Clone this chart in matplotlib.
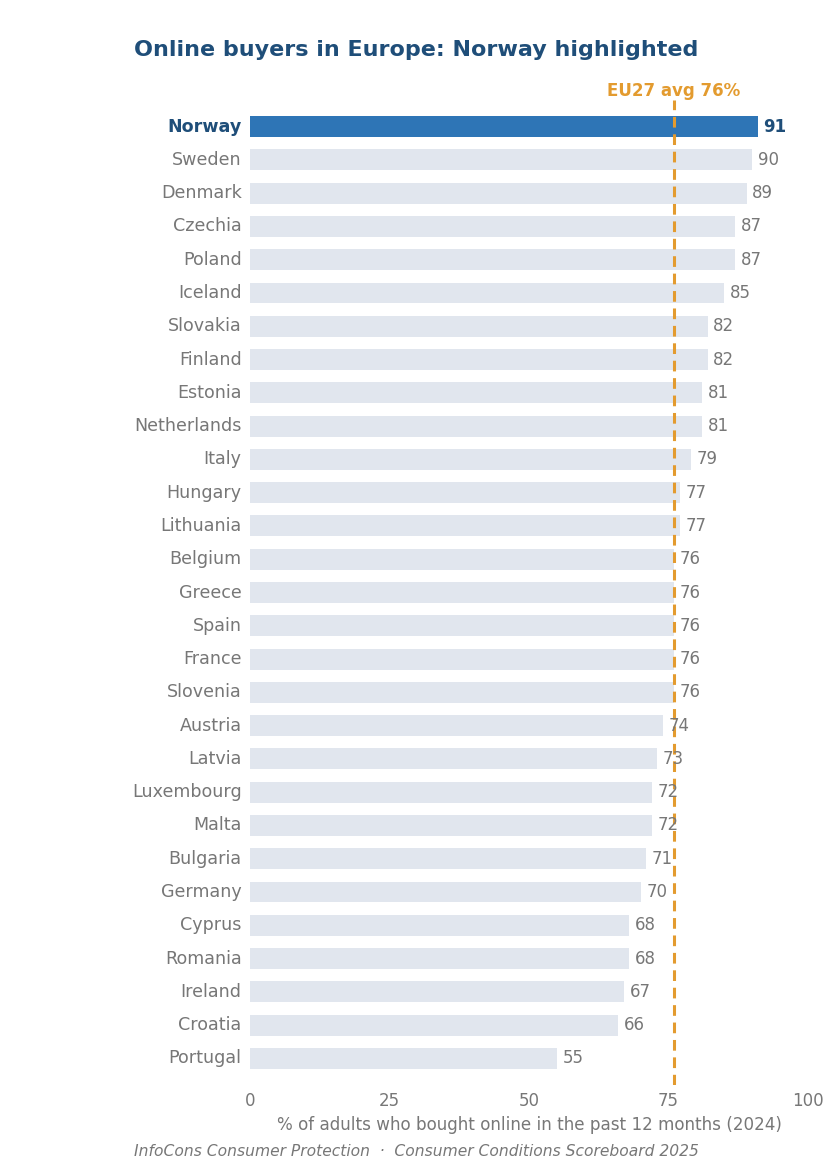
import matplotlib
matplotlib.use("Agg")
import matplotlib.pyplot as plt

countries = ["Norway", "Sweden", "Denmark", "Czechia", "Poland", "Iceland", "Slovakia",
             "Finland", "Estonia", "Netherlands", "Italy", "Hungary", "Lithuania", "Belgium",
             "Greece", "Spain", "France", "Slovenia", "Austria", "Latvia", "Luxembourg",
             "Malta", "Bulgaria", "Germany", "Cyprus", "Romania", "Ireland", "Croatia", "Portugal"]
values = [91, 90, 89, 87, 87, 85, 82, 82, 81, 81, 79, 77, 77, 76, 76, 76, 76, 76, 74, 73,
          72, 72, 71, 70, 68, 68, 67, 66, 55]
highlight = "Norway"
eu_avg = 76
xticks = [0, 25, 50, 75, 100]

HL = "#2e75b6"
HL_TXT = "#1f4e79"
BASE = "#e1e6ee"
GREY = "#777777"
ORANGE = "#e39b2f"

fig = plt.figure(figsize=(8.33, 11.73), dpi=100)
ax = fig.add_axes([250/833, 1 - 1085/1173, (808-250)/833, (1085-100)/1173])

ys = list(range(len(countries)))
colors = [HL if c == highlight else BASE for c in countries]
ax.barh(ys, values, height=0.63, color=colors, zorder=2)
ax.set_ylim(len(countries) - 0.2, -0.8)
ax.set_xlim(0, 100)

ax.axvline(eu_avg, color=ORANGE, lw=2.2, ls=(0, (3.5, 2.2)), zorder=3)
ax.text(eu_avg, -1.08, f"EU27 avg {eu_avg}%", color=ORANGE, fontsize=12, fontweight="bold",
        ha="center", va="center")

for y, v, c in zip(ys, values, countries):
    hl = c == highlight
    ax.text(v + 1.0, y, str(v), va="center", ha="left", fontsize=12,
            color=HL_TXT if hl else GREY, fontweight="bold" if hl else "normal", zorder=4)

ax.set_yticks(ys)
ax.set_yticklabels(countries, fontsize=12.6)
for lab, c in zip(ax.get_yticklabels(), countries):
    lab.set_verticalalignment("center")
    if c == highlight:
        lab.set_color(HL_TXT)
        lab.set_fontweight("bold")
    else:
        lab.set_color(GREY)
ax.set_xticks(xticks)
ax.set_xticklabels([str(t) for t in xticks], fontsize=12, color=GREY)
ax.tick_params(axis="x", length=0, pad=5)
ax.tick_params(axis="y", length=0, pad=6)
for s in ax.spines.values():
    s.set_visible(False)
ax.set_xlabel("% of adults who bought online in the past 12 months (2024)", fontsize=12.1,
              color=GREY, labelpad=4)

fig.text(0.5, 1 - 50/1173, "Online buyers in Europe: Norway highlighted", ha="center",
         va="center", fontsize=16, fontweight="bold", color=HL_TXT)
fig.text(0.5, 1 - 1151/1173, "InfoCons Consumer Protection  \u00b7  Consumer Conditions Scoreboard 2025",
         ha="center", va="center", fontsize=11.2, style="italic", color=GREY)

fig.savefig("out.png", dpi=100)
